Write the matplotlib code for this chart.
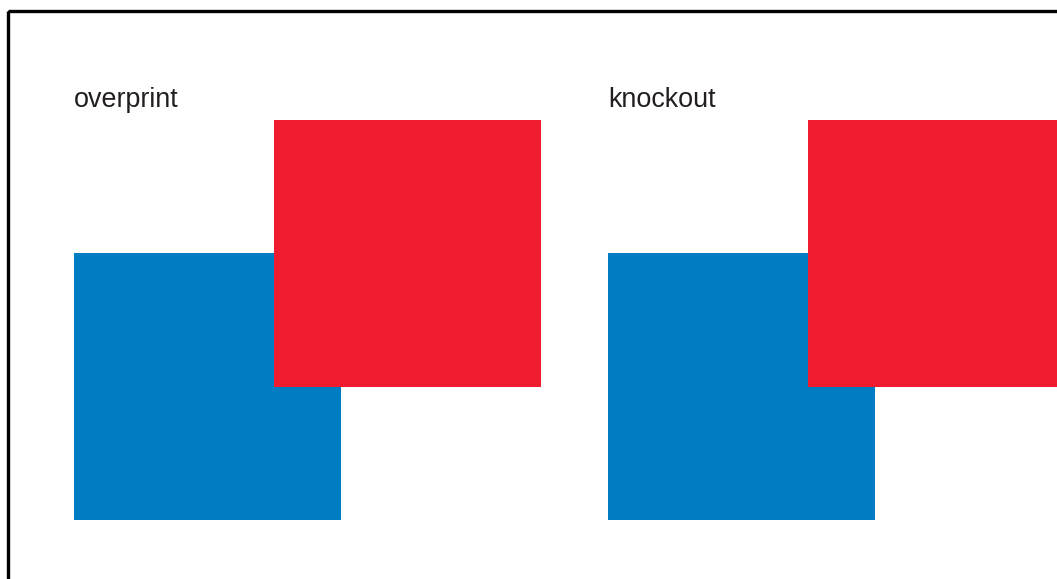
import matplotlib.pyplot as plt
from matplotlib.patches import Rectangle

# panel labels and square positions (pixel coords, y down)
labels = ["overprint", "knockout"]
label_x = [74, 608]
label_y = [100, 100]
blue_x = [74, 608]
blue_y = [253, 253]
red_x = [274, 808]
red_y = [120, 120]
square_size = 267

blue = "#007cc2"
red = "#ee1c2e"

fig = plt.figure(figsize=(10.57, 5.79), dpi=100)
ax = fig.add_axes([0, 0, 1, 1])
ax.set_xlim(0, 1057)
ax.set_ylim(579, 0)
ax.axis("off")

# frame, runs off the right and bottom edge
ax.add_patch(Rectangle((7.5, 10.5), 1200, 700, fill=False, edgecolor="black", lw=2.4))

for i in range(len(labels)):
    ax.add_patch(Rectangle((blue_x[i], blue_y[i]), square_size, square_size,
                           facecolor=blue, edgecolor="none"))
    ax.add_patch(Rectangle((red_x[i], red_y[i]), square_size, square_size,
                           facecolor=red, edgecolor="none"))
    ax.text(label_x[i], label_y[i], labels[i], fontsize=19.4, color="#231f20",
            family="Liberation Sans", va="center", ha="left")

fig.savefig("out.png", dpi=100)
